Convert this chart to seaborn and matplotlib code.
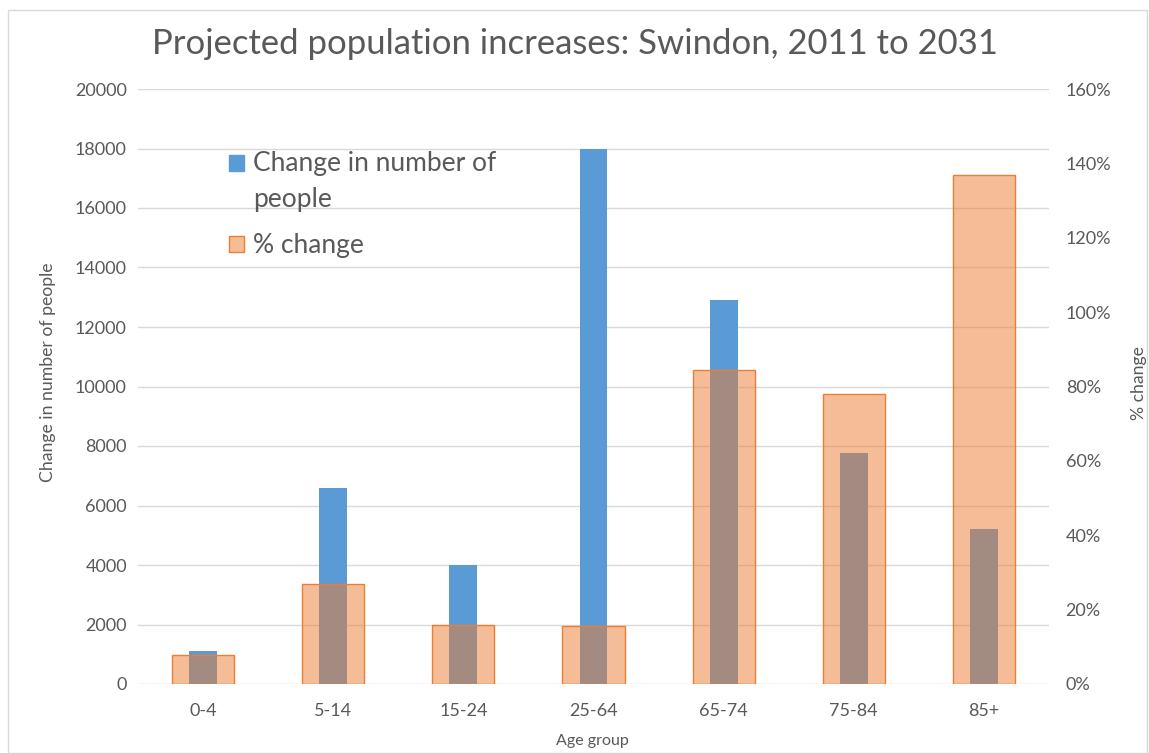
import matplotlib
matplotlib.use("Agg")
import matplotlib.pyplot as plt
from matplotlib.patches import Patch, Rectangle
from matplotlib.ticker import FuncFormatter, MultipleLocator
import seaborn as sns
import pandas as pd

# Projected change by age group, Swindon 2011-2031
age_groups = ["0-4", "5-14", "15-24", "25-64", "65-74", "75-84", "85+"]
change_people = [1100, 6600, 4000, 18000, 12900, 7750, 5200]
pct_change = [7.8, 26.9, 15.9, 15.6, 84.4, 78.0, 137.0]

df = pd.DataFrame({"Age group": age_groups,
                   "people": change_people,
                   "pct": pct_change})

sns.set_theme(style="white")
plt.rcParams["font.family"] = ["Lato", "DejaVu Sans"]

TXT = "#595959"
GRID = "#D9D9D9"
BLUE = "#5B9BD5"
ORANGE = "#ED7D31"
ORANGE_FILL = (237 / 255, 125 / 255, 49 / 255, 0.5)

W, H = 1149, 753
fig = plt.figure(figsize=(W / 100, H / 100), dpi=100)
left, right, bottom, top = 138, 1049, 684, 89
aw, ah = right - left, bottom - top
ax = fig.add_axes([left / W, 1 - bottom / H, aw / W, ah / H])

sns.barplot(data=df, x="Age group", y="people", ax=ax, color=BLUE,
            width=0.215, saturation=1, linewidth=0)
ax.set_ylim(0, 20000)
ax.yaxis.set_major_locator(MultipleLocator(2000))
ax.grid(axis="y", color=GRID, linewidth=1)
ax.set_axisbelow(True)
for s in ax.spines.values():
    s.set_visible(False)
ax.tick_params(axis="both", length=0, labelsize=13, colors=TXT, pad=8)
ax.tick_params(axis="x", pad=14)
ax.set_ylabel("Change in number of people", fontsize=12.7, color=TXT, va="center")
ax.yaxis.set_label_coords((48 - left) / aw, (bottom - 372) / ah)
ax.set_xlabel("Age group", fontsize=11.5, color=TXT, va="center")
ax.xaxis.set_label_coords((592 - left) / aw, (bottom - 741) / ah)

ax2 = ax.twinx()
sns.barplot(data=df, x="Age group", y="pct", ax=ax2, color=ORANGE,
            width=0.477, saturation=1)
for p in ax2.patches:
    p.set_facecolor(ORANGE_FILL)
    p.set_edgecolor(ORANGE)
    p.set_linewidth(1.0)
ax2.set_ylim(0, 160)
ax2.yaxis.set_major_locator(MultipleLocator(20))
ax2.yaxis.set_major_formatter(FuncFormatter(lambda v, _: f"{v:.0f}%"))
ax2.grid(False)
for s in ax2.spines.values():
    s.set_visible(False)
ax2.tick_params(axis="y", length=0, labelsize=13, colors=TXT, pad=12)
ax2.set_ylabel("% change", fontsize=12.7, color=TXT, va="center")
ax2.yaxis.set_label_coords((1139 - left) / aw, (bottom - 383) / ah)
ax2.set_xlabel("")

handles = [Patch(facecolor=BLUE, edgecolor=BLUE, label="Change in number of\npeople"),
           Patch(facecolor=ORANGE_FILL, edgecolor=ORANGE, label="% change")]
leg = ax2.legend(handles=handles, loc="upper left",
                 bbox_to_anchor=((229 - left) / aw, (bottom - 151) / ah),
                 frameon=False, fontsize=19, handlelength=0.55, handleheight=0.55,
                 handletextpad=0.35, labelspacing=0.8, borderpad=0,
                 borderaxespad=0)
for t in leg.get_texts():
    t.set_color(TXT)
    t.set_linespacing(1.55)
# keep the first marker level with the first line of its wrapped label
first = leg.legend_handles[0]
first.set_y(first.get_y() + 13.5)

fig.suptitle("Projected population increases: Swindon, 2011 to 2031",
             fontsize=24.9, color=TXT, y=1 - 44 / H, va="center")

fig.patches.append(Rectangle((8 / W, 0), (W - 10) / W, 1 - 10 / H,
                             transform=fig.transFigure, fill=False,
                             edgecolor="#D9D9D9", linewidth=1))

fig.savefig("out.png", dpi=100)
